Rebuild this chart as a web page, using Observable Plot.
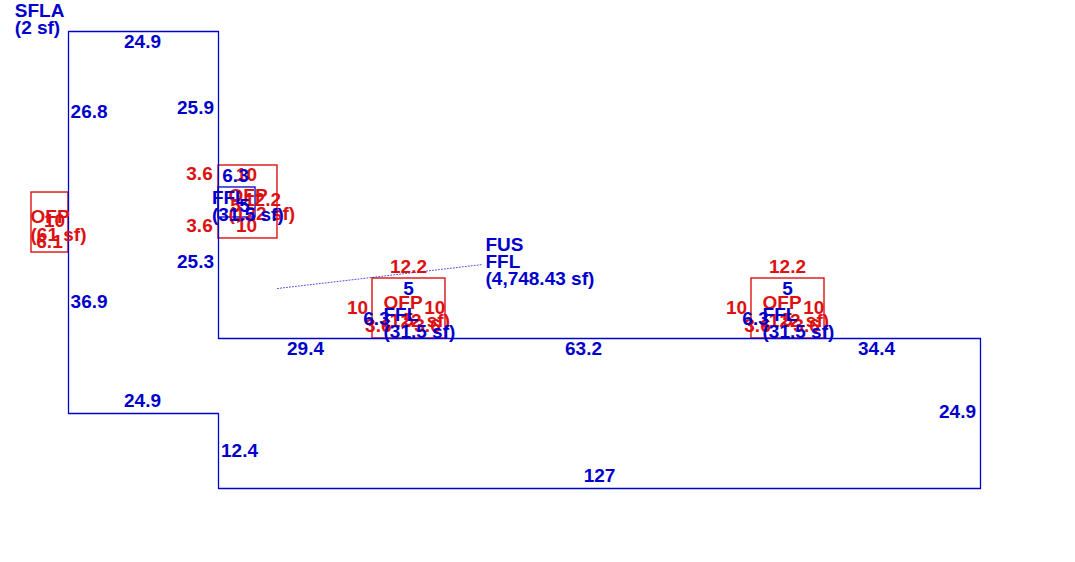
<!DOCTYPE html>
<html><head><meta charset="utf-8">
<script src="https://cdn.jsdelivr.net/npm/d3@7"></script>
<script src="https://cdn.jsdelivr.net/npm/@observablehq/plot@0.6"></script>
<style>html,body{margin:0;padding:0;background:#fff}svg{display:block}</style>
</head><body><div id="c"></div>
<script>
// sketch coordinates, in feet
const houseX=[0,25,25,152,152,25,25,0,0];
const houseY=[76.17,76.17,25,25,0,0,12.5,12.5,76.17];
const ofpRects=[[-6.17,0,39.33,49.33],[25,34.83,41.67,53.83],[50.67,62.83,25,35],[113.83,126,25,35]];
const fflRect=[25,31.17,45.17,50.17];
const leaderX=[34.83,69];
const leaderY=[33.33,37.33];
const BLUE="#0000cd",RED="#dd1111";
const blueLabels=[
 ["SFLA",-8.95,79.5,"start"],["(2 sf)",-8.95,76.67,"start"],
 ["24.9",12.5,74.33,"middle"],["26.8",3.6,62.67,"middle"],["25.9",21.33,63.33,"middle"],
 ["25.3",21.33,37.67,"middle"],["36.9",3.6,31,"middle"],["29.4",39.67,23.17,"middle"],
 ["63.2",86,23.17,"middle"],["34.4",134.83,23.17,"middle"],["24.9",148.33,12.67,"middle"],
 ["127",88.67,2,"middle"],["24.9",12.5,14.5,"middle"],["12.4",28.67,6.17,"middle"],
 ["FUS",69.5,40.5,"start"],["FFL",69.5,37.67,"start"],["(4,748.43 sf)",69.5,34.83,"start"],
 ["6.3",28,52,"middle"],["5",29.5,47,"middle"],["FFL",23.9,48.33,"start"],["(31.5 sf)",23.9,45.5,"start"],
 ["5",56.83,33.17,"middle"],["6.3",51.5,28.17,"middle"],["FFL",52.5,28.83,"start"],["(31.5 sf)",52.5,26,"start"],
 ["5",120,33.17,"middle"],["6.3",114.67,28.17,"middle"],["FFL",115.67,28.83,"start"],["(31.5 sf)",115.67,26,"start"]
];
const redLabels=[
 ["OFP",-6.33,45.17,"start"],["(61 sf)",-6.33,42.17,"start"],["10",-2.17,44.5,"middle"],["6.1",-3,41,"middle"],
 ["3.6",22,52.33,"middle"],["3.6",22,43.67,"middle"],["10",29.83,52.17,"middle"],["10",29.83,43.67,"middle"],
 ["OFP",26.67,48.58,"start"],["(122 sf)",26.67,45.58,"start"],["12.2",32.5,48,"middle"],["5",28,47,"middle"],
 ["12.2",56.83,36.83,"middle"],["10",48.33,30,"middle"],["10",61.2,30,"middle"],["OFP",52.5,30.83,"start"],
 ["(122 sf)",52.5,27.83,"start"],["3.6",51.8,27,"middle"],["3.6",60,27,"middle"],["5",56.83,28,"middle"],
 ["12.2",120,36.83,"middle"],["10",111.5,30,"middle"],["10",124.37,30,"middle"],["OFP",115.67,30.83,"start"],
 ["(122 sf)",115.67,27.83,"start"],["3.6",115,27,"middle"],["3.6",123.17,27,"middle"],["5",120,28,"middle"]
];
const labelMark=(rows,color)=>["start","middle"].map(a=>Plot.text(rows.filter(r=>r[3]===a),{
  x:d=>d[1],y:d=>d[2],text:d=>d[0],fill:color,dy:-1,dx:a==="middle"?-1:0,textAnchor:a,lineAnchor:"middle",
  fontFamily:"Liberation Sans",fontWeight:"bold",fontSize:19}));
const house=houseX.map((x,i)=>({x,y:houseY[i]}));
const leader=leaderX.map((x,i)=>({x,y:leaderY[i]}));
const chart=Plot.plot({
  width:1075,height:562,margin:0,
  x:{domain:[-68/6,1007/6],axis:null},
  y:{domain:[-74/6,488/6],axis:null},
  marks:[
    Plot.rect(ofpRects,{x1:d=>d[0],x2:d=>d[1],y1:d=>d[2],y2:d=>d[3],stroke:RED,strokeWidth:1.4,fill:"none"}),
    Plot.rect([fflRect],{x1:d=>d[0],x2:d=>d[1],y1:d=>d[2],y2:d=>d[3],stroke:BLUE,strokeWidth:1.3,fill:"none"}),
    Plot.line(leader,{x:"x",y:"y",stroke:BLUE,strokeWidth:.7,strokeDasharray:"1 2"}),
    Plot.line(house,{x:"x",y:"y",stroke:BLUE,strokeWidth:1.3}),
    ...labelMark(redLabels,RED),
    ...labelMark(blueLabels,BLUE)
  ]
});
document.getElementById("c").append(chart);
</script></body></html>
